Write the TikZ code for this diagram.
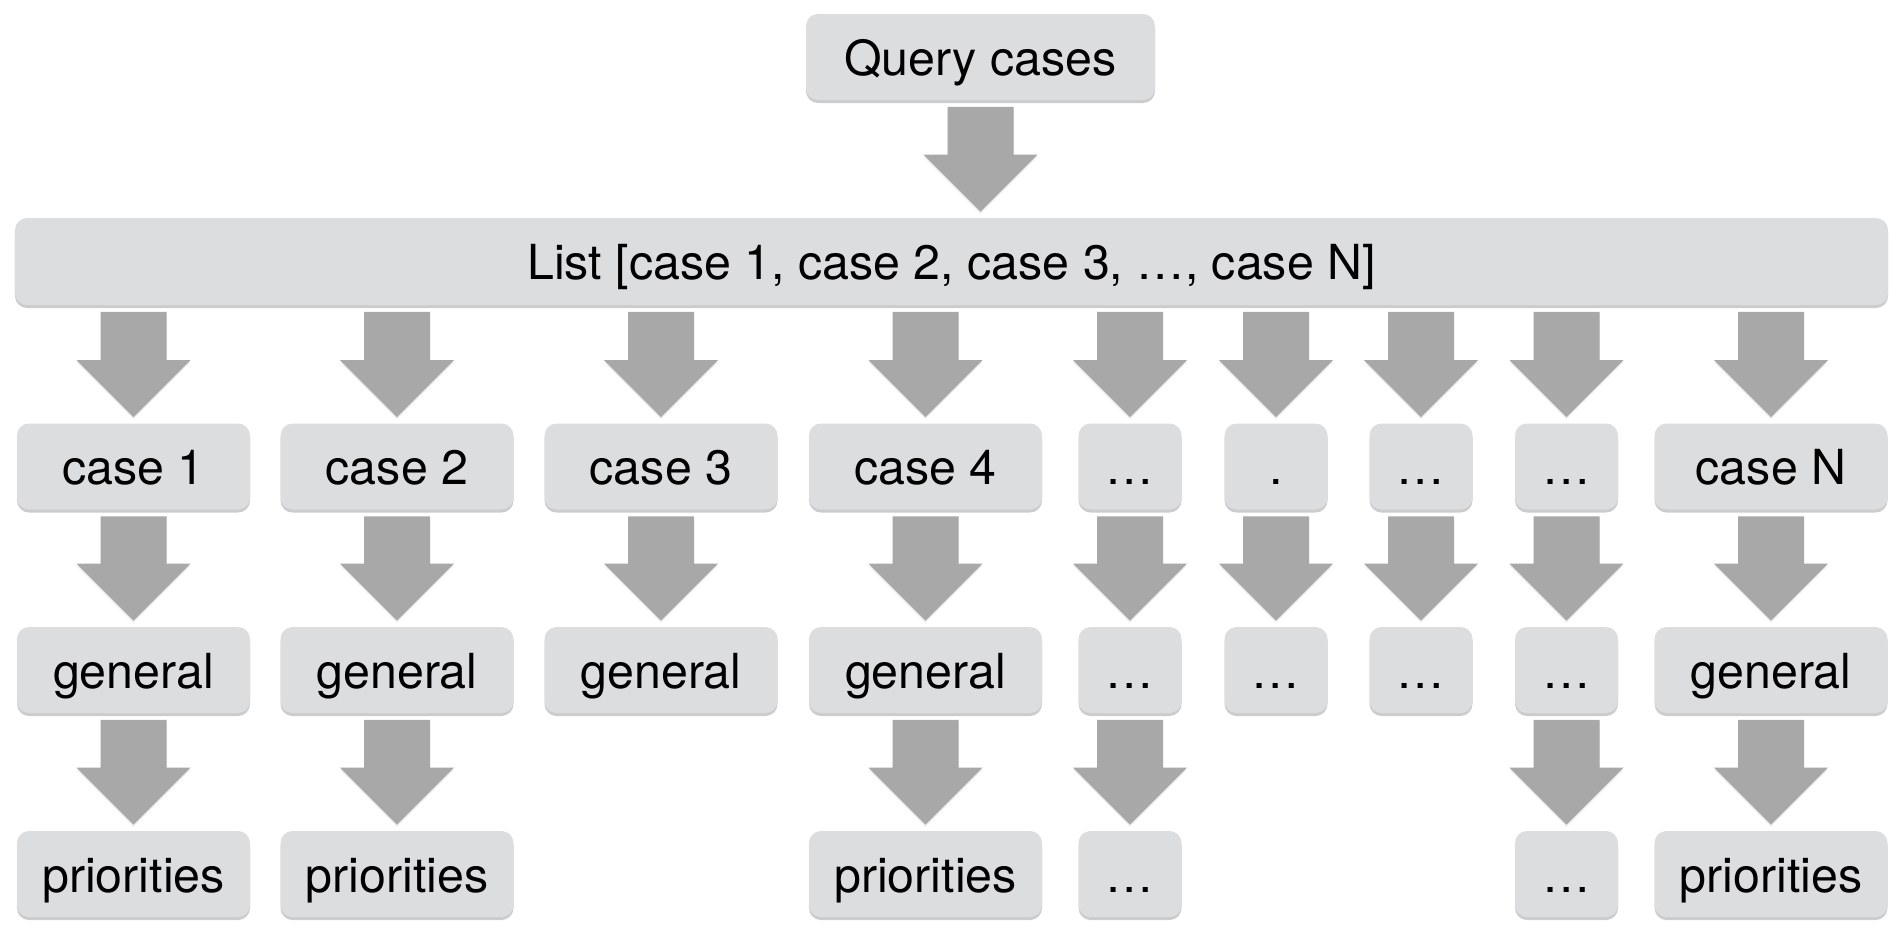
\documentclass[tikz,border=0pt]{standalone}
\usepackage{fontspec}
\setmainfont{TeX Gyre Heros}
\usetikzlibrary{calc,shadows}

\definecolor{boxgray}{RGB}{220,221,223}
\definecolor{arrowgray}{RGB}{167,168,167}

\tikzset{
  card/.style={fill=boxgray, rounded corners=0.24cm, inner sep=0pt,
    minimum width=4.66cm, minimum height=1.72cm,
    text height=0.95cm, text depth=0.23cm,
    font=\fontsize{27.5}{32}\selectfont,
    drop shadow={shadow xshift=0cm, shadow yshift=-0.06cm, opacity=0.4}},
  dotcard/.style={card, minimum width=2.06cm},
  fat/.style={fill=arrowgray,
    drop shadow={shadow xshift=0cm, shadow yshift=-0.04cm, opacity=0.15}}
}

\newcommand{\fatarrow}[2]{%
  \fill[fat] ($(#1)+(-0.66,-0.13)$) -- ($(#1)+(0.66,-0.13)$)
    -- ($(#2)+(0.66,1.26)$) -- ($(#2)+(1.14,1.26)$) -- ($(#2)+(0,0.12)$)
    -- ($(#2)+(-1.14,1.26)$) -- ($(#2)+(-0.66,1.26)$) -- cycle;}

\begin{document}
\begin{tikzpicture}
  \useasboundingbox (0,0) rectangle (38.08,-18.72);

  \node[card, minimum width=6.98cm](query) at (19.61,-1.14) {Query cases};
  \node[card, minimum width=37.46cm, minimum height=1.74cm](list) at (19.03,-5.23)
    {List [case 1, case 2, case 3, …, case N]};

  \node[card](case1)    at (2.67,-9.33)  {case 1};
  \node[card](case2)    at (7.94,-9.33)  {case 2};
  \node[card](case3)    at (13.22,-9.33) {case 3};
  \node[card](case4)    at (18.51,-9.33) {case 4};
  \node[dotcard](case5) at (22.60,-9.33) {…};
  \node[dotcard](case6) at (25.52,-9.33) {.};
  \node[dotcard](case7) at (28.42,-9.33) {…};
  \node[dotcard](case8) at (31.33,-9.33) {…};
  \node[card](caseN)    at (35.42,-9.33) {case N};

  \node[card](general1)    at (2.67,-13.40)  {general};
  \node[card](general2)    at (7.94,-13.40)  {general};
  \node[card](general3)    at (13.22,-13.40) {general};
  \node[card](general4)    at (18.51,-13.40) {general};
  \node[dotcard](general5) at (22.60,-13.40) {…};
  \node[dotcard](general6) at (25.52,-13.40) {…};
  \node[dotcard](general7) at (28.42,-13.40) {…};
  \node[dotcard](general8) at (31.33,-13.40) {…};
  \node[card](generalN)    at (35.42,-13.40) {general};

  \node[card](priorities1)    at (2.67,-17.48)  {priorities};
  \node[card](priorities2)    at (7.94,-17.48)  {priorities};
  \node[card](priorities4)    at (18.51,-17.48) {priorities};
  \node[dotcard](priorities5) at (22.60,-17.48) {…};
  \node[dotcard](priorities8) at (31.33,-17.48) {…};
  \node[card](prioritiesN)    at (35.42,-17.48) {priorities};

  \fatarrow{query.south}{query.south |- list.north}

  \fatarrow{list.south -| case1.north}{case1.north}
  \fatarrow{list.south -| case2.north}{case2.north}
  \fatarrow{list.south -| case3.north}{case3.north}
  \fatarrow{list.south -| case4.north}{case4.north}
  \fatarrow{list.south -| case5.north}{case5.north}
  \fatarrow{list.south -| case6.north}{case6.north}
  \fatarrow{list.south -| case7.north}{case7.north}
  \fatarrow{list.south -| case8.north}{case8.north}
  \fatarrow{list.south -| caseN.north}{caseN.north}

  \fatarrow{case1.south}{general1.north}
  \fatarrow{case2.south}{general2.north}
  \fatarrow{case3.south}{general3.north}
  \fatarrow{case4.south}{general4.north}
  \fatarrow{case5.south}{general5.north}
  \fatarrow{case6.south}{general6.north}
  \fatarrow{case7.south}{general7.north}
  \fatarrow{case8.south}{general8.north}
  \fatarrow{caseN.south}{generalN.north}

  \fatarrow{general1.south}{priorities1.north}
  \fatarrow{general2.south}{priorities2.north}
  \fatarrow{general4.south}{priorities4.north}
  \fatarrow{general5.south}{priorities5.north}
  \fatarrow{general8.south}{priorities8.north}
  \fatarrow{generalN.south}{prioritiesN.north}
\end{tikzpicture}
\end{document}
